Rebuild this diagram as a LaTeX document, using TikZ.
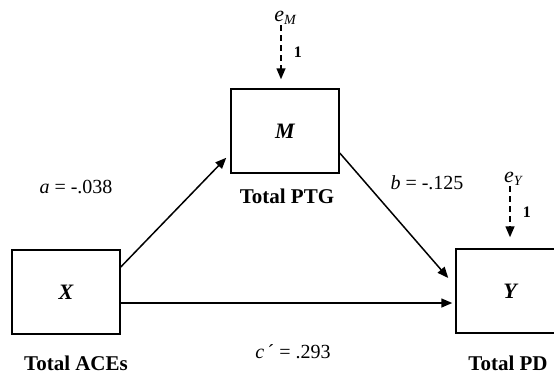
\documentclass[tikz,border=0pt]{standalone}
\usepackage{fontspec}
\setmainfont{Liberation Serif}
\usetikzlibrary{arrows,arrows.meta}
\usetikzlibrary{positioning}

\begin{document}
\begin{tikzpicture}[x=1pt,y=-1pt,>={Triangle[length=11pt,width=9pt]},line width=1.5pt]
            % 设置节点样式
            \tikzstyle{var}=[draw=black,fill=white,minimum width=108pt,minimum height=84pt,inner sep=0pt,font=\fontsize{22}{24}\selectfont\bfseries\itshape]
            \tikzstyle{varname}=[inner sep=0pt,font=\fontsize{21}{24}\selectfont\bfseries]
            \tikzstyle{coef}=[inner sep=0pt,font=\fontsize{20}{22}\selectfont]
            \tikzstyle{err}=[inner sep=0pt,font=\fontsize{22}{24}\selectfont\itshape]
            \tikzstyle{one}=[inner sep=0pt,font=\fontsize{16}{18}\selectfont\bfseries]
            \tikzstyle{effect}=[->,line width=1.5pt]
            \tikzstyle{resid}=[->,line width=1.5pt,dash pattern=on 6pt off 4pt]

            \useasboundingbox (0,0) rectangle (554,376);

            % 定义节点
            \node[var] (X) at (66,292) {X};
            \node[var] (M) at (285,131) {M};
            \node[var] (Y) at (510,291) {Y};

            \node[varname] (xname) at (76,363) {Total ACEs};
            \node[varname] (mname) at (287,196) {Total PTG};
            \node[varname] (yname) at (508,363) {Total PD};

            \node[err] (eM) at (285,18) {e\raisebox{-0.3ex}{\fontsize{14}{16}\selectfont M}};
            \node[err] (eY) at (513,179) {e\raisebox{-0.3ex}{\fontsize{14}{16}\selectfont Y}};

            \node[coef] (a) at (76,187) {\textit{a} = -.038};
            \node[coef] (b) at (427,183) {\textit{b} = -.125};
            \node[coef] (c) at (293,352) {\textit{c}\,´ = .293};

            % 定义路径
            \draw[resid] ([xshift=-4pt]eM.south) -- ([xshift=-4pt,yshift=9pt]M.north)
                node[one,pos=0.5,right=12pt] {1};
            \draw[resid] ([xshift=-3pt]eY.south) -- ([yshift=11pt]Y.north)
                node[one,pos=0.5,right=12pt] {1};
            \draw[effect] ([yshift=25pt]X.east) -- ([xshift=-4pt,yshift=16pt]M.south west);
            \draw[effect] ([yshift=-22pt]M.east) -- ([xshift=-7pt,yshift=13pt]Y.west);
            \draw[effect] ([yshift=-11pt]X.east) -- ([xshift=-3pt,yshift=-12pt]Y.west);
        \end{tikzpicture}
\end{document}
